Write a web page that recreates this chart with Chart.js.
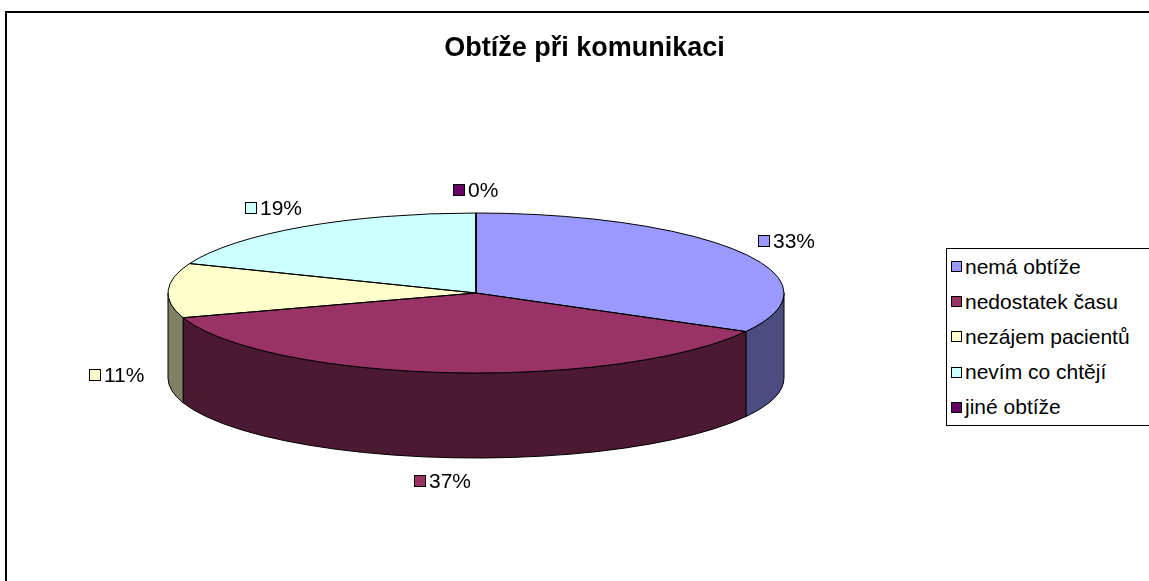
<!DOCTYPE html>
<html>
<head>
<meta charset="utf-8">
<script src="https://cdn.jsdelivr.net/npm/chart.js@4.4.1/dist/chart.umd.min.js"></script>
<style>
    html, body { margin: 0; padding: 0; background: #fff; overflow: hidden; }
    #wrap { position: relative; width: 1149px; height: 581px; overflow: hidden; }
    #frame { position: absolute; left: 5px; top: 11px; width: 1300px; height: 700px; border: 2px solid #000; }
    #pieChart { position: absolute; left: 0; top: 0; }
    #legend {
        position: absolute; left: 946px; top: 248px; width: 260px; height: 176px;
        border: 1px solid #000; background: #fff;
        font-family: 'Liberation Sans', Arial, sans-serif; font-size: 21px; color: #000;
    }
    #legend .item { display: flex; align-items: center; height: 35.2px; white-space: nowrap; }
    #legend .box { width: 9px; height: 9px; border: 1px solid #000; margin: 0 3px 0 4px; flex: none; }
</style>
</head>
<body>
<div id="wrap">
    <div id="frame"></div>
    <canvas id="pieChart" width="1169" height="581"></canvas>
    <div id="legend"></div>
</div>
<script>
// Data
const categories = ['nemá obtíže', 'nedostatek času', 'nezájem pacientů', 'nevím co chtějí', 'jiné obtíže'];
const shares = [33, 37, 11, 19, 0];
const topColors = ['#9999FF', '#993366', '#FFFFCC', '#CCFFFF', '#660066'];
const sideColors = ['#4C4C80', '#4C1933', '#808066', '#668080', '#330033'];

// 3D pie geometry (layout only)
const PIE = { cx: 476, cy: 293, rx: 308, ry: 80, depth: 85 };
const FONT = "'Liberation Sans', Arial, sans-serif";

function ellipsePath(ctx, arc) {
    ctx.beginPath();
    ctx.moveTo(PIE.cx, PIE.cy);
    ctx.ellipse(PIE.cx, PIE.cy, PIE.rx, PIE.ry, 0, arc.startAngle, arc.endAngle);
    ctx.closePath();
}

const pie3d = {
    id: 'pie3d',
    beforeDatasetsDraw(chart) {
        const ctx = chart.ctx;
        const arcs = chart.getDatasetMeta(0).data;
        // side walls, front half only
        ctx.save();
        ctx.lineWidth = 1;
        ctx.strokeStyle = '#000';
        arcs.forEach((arc, i) => {
            const a0 = Math.max(arc.startAngle, 0);
            const a1 = Math.min(arc.endAngle, Math.PI);
            if (a1 <= a0) return;
            ctx.beginPath();
            ctx.ellipse(PIE.cx, PIE.cy, PIE.rx, PIE.ry, 0, a0, a1);
            ctx.lineTo(PIE.cx + PIE.rx * Math.cos(a1), PIE.cy + PIE.ry * Math.sin(a1) + PIE.depth);
            ctx.ellipse(PIE.cx, PIE.cy + PIE.depth, PIE.rx, PIE.ry, 0, a1, a0, true);
            ctx.closePath();
            ctx.fillStyle = sideColors[i];
            ctx.fill();
            ctx.stroke();
        });
        ctx.restore();
        // squash the library's round pie into the top ellipse
        const a = arcs[0];
        ctx.save();
        ctx.translate(PIE.cx, PIE.cy);
        ctx.scale(PIE.rx / a.outerRadius, PIE.ry / a.outerRadius);
        ctx.translate(-a.x, -a.y);
    },
    afterDatasetsDraw(chart) {
        const ctx = chart.ctx;
        ctx.restore();
        const arcs = chart.getDatasetMeta(0).data;
        const total = shares.reduce((s, v) => s + v, 0);
        ctx.save();
        ctx.lineWidth = 1;
        ctx.strokeStyle = '#000';
        arcs.forEach(arc => { ellipsePath(ctx, arc); ctx.stroke(); });

        // data labels
        ctx.font = '21px ' + FONT;
        ctx.textBaseline = 'middle';
        ctx.fillStyle = '#000';
        arcs.forEach((arc, i) => {
            const mid = (arc.startAngle + arc.endAngle) / 2;
            const ux = Math.cos(mid), uy = Math.sin(mid);
            const txt = Math.round(shares[i] / total * 100) + '%';
            const w = 11 + 4 + ctx.measureText(txt).width, h = 20;
            const ax = PIE.cx + (PIE.rx + 24) * ux;
            const ay = PIE.cy + (PIE.ry + 13) * uy + (uy > -0.25 ? PIE.depth : 0);
            const bx = ax + ux * w / 2, by = ay + uy * h / 2;
            const left = Math.round(bx - w / 2), yc = Math.round(by);
            ctx.fillStyle = topColors[i];
            ctx.fillRect(left, yc - 5, 11, 11);
            ctx.strokeRect(left + 0.5, yc - 5.5, 11, 11);
            ctx.fillStyle = '#000';
            ctx.fillText(txt, left + 15, yc + 1);
        });
        ctx.restore();
    }
};

const chart = new Chart(document.getElementById('pieChart'), {
    type: 'pie',
    data: {
        labels: categories,
        datasets: [{
            data: shares,
            backgroundColor: topColors,
            borderWidth: 0,
            clip: false
        }]
    },
    options: {
        responsive: false,
        animation: false,
        events: [],
        plugins: {
            legend: { display: false },
            tooltip: { enabled: false },
            title: {
                display: true,
                text: 'Obtíže při komunikaci',
                color: '#000',
                font: { family: FONT, size: 27, weight: 'bold' },
                padding: { top: 32, bottom: 10 }
            }
        }
    },
    plugins: [pie3d]
});

// HTML legend built from the same arrays
const legend = document.getElementById('legend');
categories.forEach((name, i) => {
    const row = document.createElement('div');
    row.className = 'item';
    const box = document.createElement('span');
    box.className = 'box';
    box.style.background = topColors[i];
    row.appendChild(box);
    row.appendChild(document.createTextNode(name));
    legend.appendChild(row);
});
</script>
</body>
</html>
